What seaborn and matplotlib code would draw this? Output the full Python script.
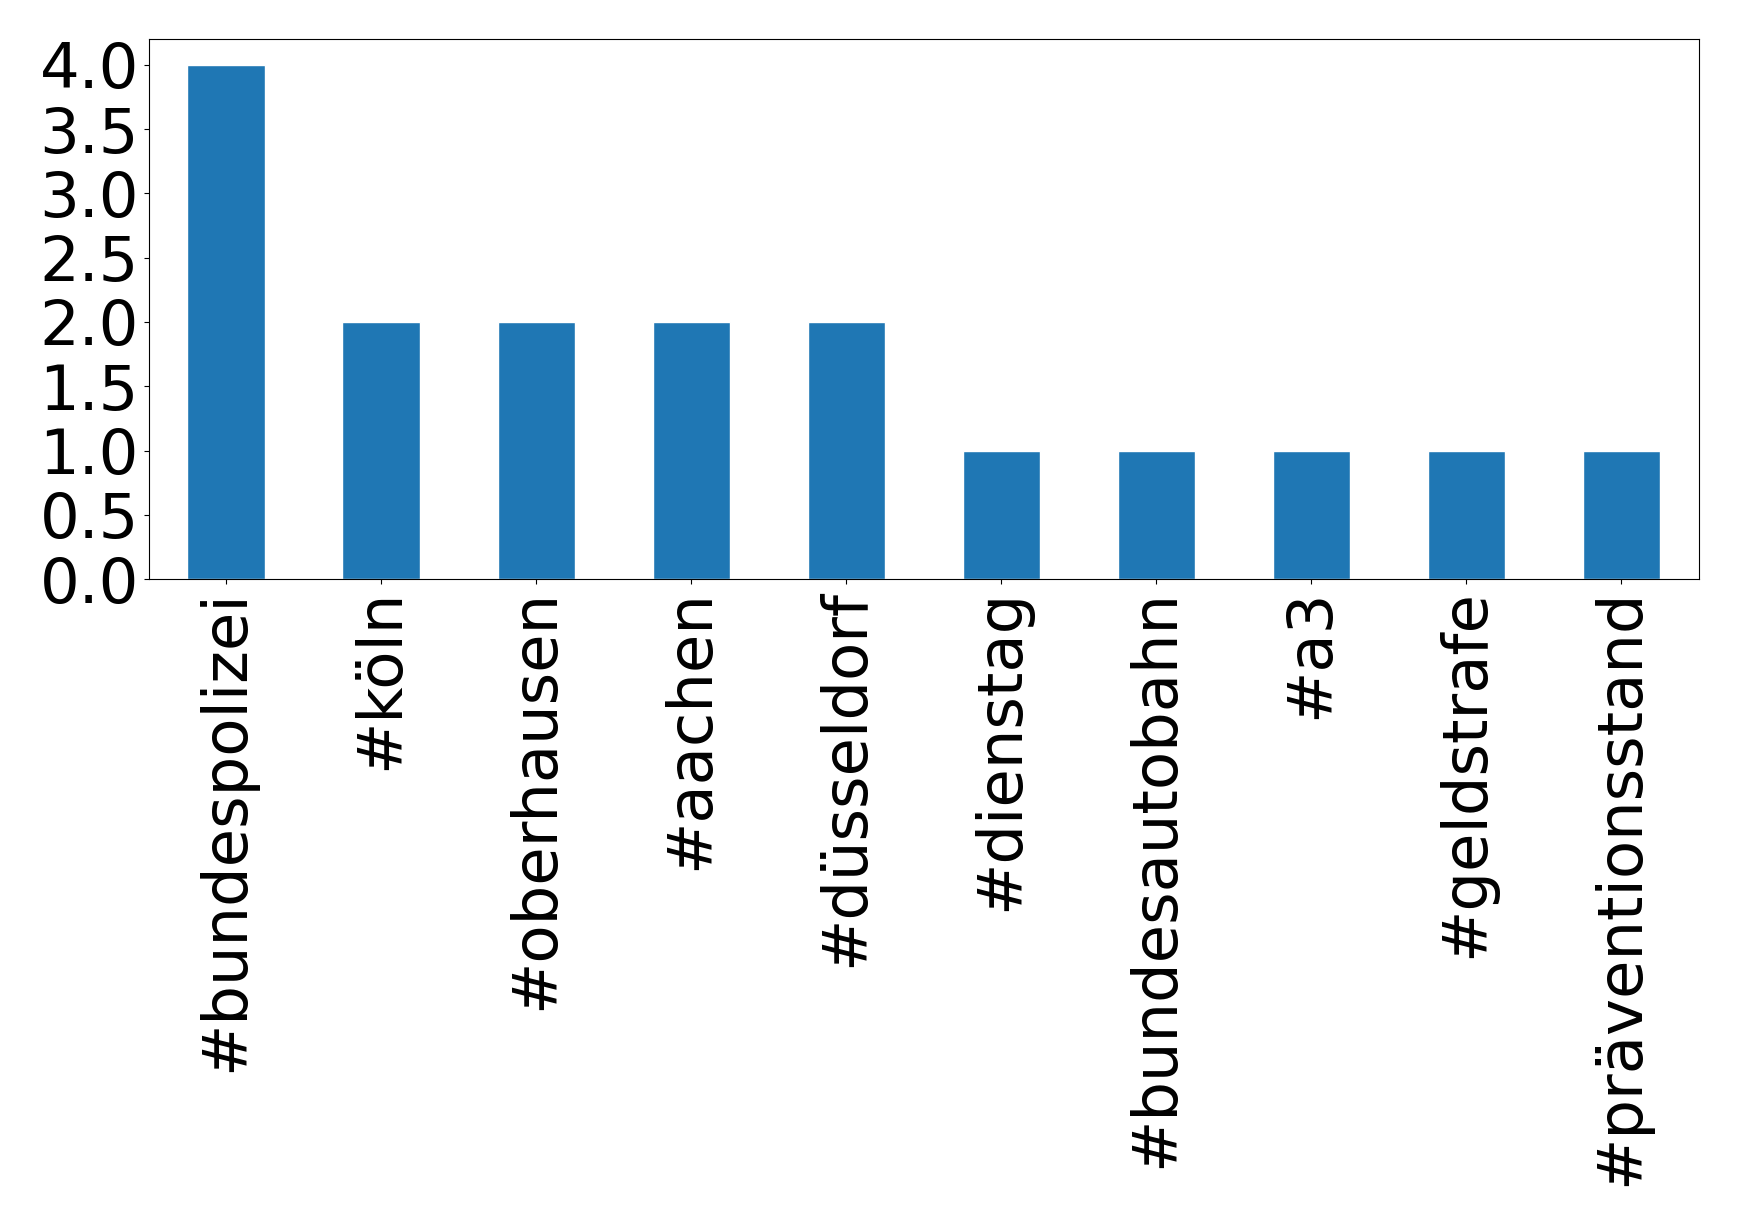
import matplotlib
matplotlib.use("Agg")
import matplotlib.pyplot as plt
import seaborn as sns
import pandas as pd

categories = ["#bundespolizei", "#köln", "#oberhausen", "#aachen", "#düsseldorf",
              "#dienstag", "#bundesautobahn", "#a3", "#geldstrafe", "#präventionsstand"]
counts = [4, 2, 2, 2, 2, 1, 1, 1, 1, 1]

sns.set_style("ticks")
plt.rcParams['font.family'] = ['DejaVu Sans']
plt.rcParams['text.color'] = 'black'
plt.rcParams['xtick.color'] = 'black'
plt.rcParams['ytick.color'] = 'black'
plt.rcParams['xtick.labelcolor'] = 'black'
plt.rcParams['ytick.labelcolor'] = 'black'

df = pd.DataFrame({"tag": categories, "count": counts})

fig = plt.figure(figsize=(17.39, 12.26), dpi=100)
ax = fig.add_axes([0.0855, 0.5277, 0.977 - 0.0855, 0.968 - 0.5277])
sns.barplot(data=df, x="tag", y="count", color="#1f77b4", saturation=1,
            width=0.5, ax=ax)
ax.set_xlim(-0.5, len(categories) - 0.5)
ax.set_ylim(0, 4.2)
yt = [0, 0.5, 1.0, 1.5, 2.0, 2.5, 3.0, 3.5, 4.0]
ax.set_yticks(yt)
ax.set_yticklabels([f"{v:.1f}" for v in yt])
ax.set_xlabel("")
ax.set_ylabel("")
for s in ax.spines.values():
    s.set_visible(True)
    s.set_color("black")
    s.set_linewidth(0.8)
ax.tick_params(axis="both", labelsize=45, colors="black", width=0.8, length=3.5)
plt.setp(ax.get_xticklabels(), rotation=90, color="black")
plt.setp(ax.get_yticklabels(), color="black")
fig.savefig("out.png", dpi=100)
